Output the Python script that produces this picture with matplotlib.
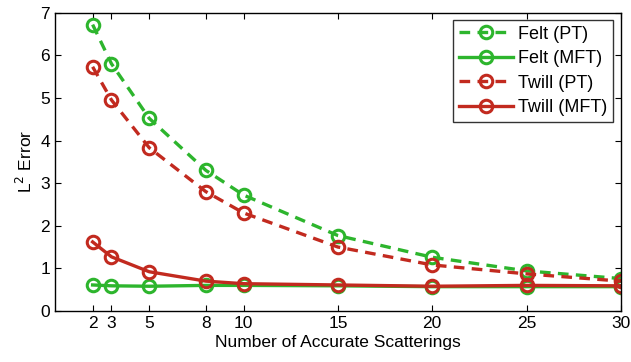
import matplotlib
matplotlib.use("Agg")
import matplotlib.pyplot as plt

plt.rcParams['font.family'] = ['Liberation Sans', 'DejaVu Sans']

# data
scatterings = [2, 3, 5, 8, 10, 15, 20, 25, 30]
felt_pt = [6.72, 5.80, 4.52, 3.30, 2.72, 1.77, 1.26, 0.94, 0.76]
felt_mft = [0.61, 0.59, 0.58, 0.60, 0.60, 0.59, 0.57, 0.57, 0.57]
twill_pt = [5.73, 4.95, 3.83, 2.80, 2.30, 1.50, 1.08, 0.87, 0.70]
twill_mft = [1.62, 1.27, 0.92, 0.70, 0.64, 0.61, 0.58, 0.60, 0.59]

green = '#2db52d'
red = '#c22a1f'

fig = plt.figure(figsize=(6.31, 3.62), dpi=100)
ax = fig.add_axes([0.087, 0.141, 0.897, 0.824])

style = dict(marker='o', markersize=9, markerfacecolor='none', markeredgewidth=2.2, linewidth=2.4)
ax.plot(scatterings, felt_pt, '--', color=green, label='Felt (PT)', dashes=(3.2, 2.2), **style)
ax.plot(scatterings, felt_mft, '-', color=green, label='Felt (MFT)', **style)
ax.plot(scatterings, twill_pt, '--', color=red, label='Twill (PT)', dashes=(3.2, 2.2), **style)
ax.plot(scatterings, twill_mft, '-', color=red, label='Twill (MFT)', **style)

ax.set_xlim(0, 30)
ax.set_ylim(0, 7)
ax.set_xticks(scatterings)
ax.set_yticks(range(8))
ax.tick_params(direction='in', top=True, right=True, labelsize=12.5, length=4)
for s in ax.spines.values():
    s.set_linewidth(1.0)

ax.set_xlabel('Number of Accurate Scatterings', fontsize=12.5, labelpad=3)
ax.set_ylabel('L$^2$ Error', fontsize=12.5, labelpad=4)

leg = ax.legend(loc='upper right', fontsize=13, fancybox=False, edgecolor='black',
                handlelength=3.0, borderpad=0.3, labelspacing=0.42, handletextpad=0.3,
                borderaxespad=0.0, bbox_to_anchor=(0.986, 0.975))
leg.get_frame().set_linewidth(1.0)

fig.savefig('out.png', dpi=100)
